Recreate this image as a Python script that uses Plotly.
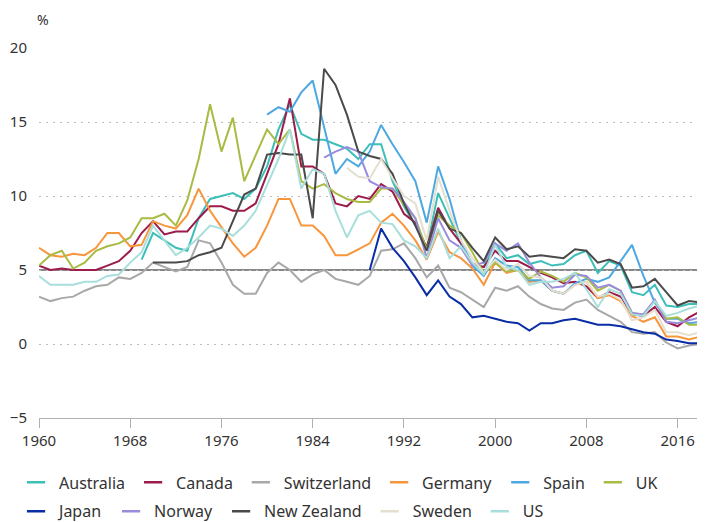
import plotly.graph_objects as go

# Long-term government bond yields, % (one point per year)
END = 2018.2  # last observation

countries_row1 = ["Australia", "Canada", "Switzerland", "Germany", "Spain", "UK"]
countries_row2 = ["Japan", "Norway", "New Zealand", "Sweden", "US"]

australia_start = 1969
australia = [5.7,
             7.5, 7.0, 6.5, 6.3, 8.5, 9.8, 10.0, 10.2, 9.8, 10.5,
             12.0, 14.5, 16.2, 14.2, 13.8, 13.8, 13.5, 13.2, 12.5, 13.5,
             13.5, 11.0, 9.3, 8.0, 6.5, 10.2, 8.5, 6.8, 5.3, 5.2,
             6.8, 5.8, 6.0, 5.4, 5.6, 5.3, 5.4, 6.0, 6.3, 4.8,
             5.6, 5.3, 3.5, 3.3, 4.0, 2.6, 2.5, 2.7, 2.7,
             1.8]

canada_start = 1960
canada = [5.3, 5.0, 5.1, 5.0, 5.0, 5.0, 5.3, 5.6, 6.3, 7.5,
          8.3, 7.4, 7.6, 7.6, 8.5, 9.3, 9.3, 9.0, 9.0, 9.5,
          11.5, 13.5, 16.6, 12.0, 12.0, 11.5, 9.5, 9.3, 10.0, 9.8,
          10.8, 10.3, 8.8, 8.2, 6.5, 9.2, 7.8, 6.8, 5.4, 5.2,
          6.3, 5.6, 5.6, 5.2, 4.8, 4.5, 4.1, 4.2, 3.9, 3.1,
          3.5, 3.2, 2.0, 1.9, 2.5, 1.5, 1.2, 1.8, 2.2,
          1.6]

switzerland_start = 1960
switzerland = [3.2, 2.9, 3.1, 3.2, 3.6, 3.9, 4.0, 4.5, 4.4, 4.8,
               5.5, 5.2, 4.9, 5.2, 7.0, 6.8, 5.5, 4.0, 3.4, 3.4,
               4.8, 5.5, 5.0, 4.2, 4.7, 5.0, 4.4, 4.2, 4.0, 4.6,
               6.3, 6.4, 6.8, 5.8, 4.5, 5.3, 3.8, 3.5, 3.0, 2.5,
               3.8, 3.6, 3.9, 3.2, 2.7, 2.4, 2.3, 2.8, 3.0, 2.3,
               1.9, 1.5, 0.8, 0.7, 0.8, 0.1, -0.3, -0.1, 0.0,
               -0.4]

germany_start = 1960
germany = [6.5, 6.0, 5.9, 6.1, 6.0, 6.5, 7.5, 7.5, 6.6, 6.7,
           8.3, 8.0, 7.8, 8.7, 10.5, 9.0, 7.9, 6.8, 5.9, 6.5,
           8.0, 9.8, 9.8, 8.0, 8.0, 7.3, 6.0, 6.0, 6.4, 6.8,
           8.2, 8.8, 8.0, 7.0, 5.7, 7.6, 6.2, 5.8, 5.1, 4.0,
           5.5, 4.8, 5.0, 4.2, 4.3, 3.6, 3.4, 4.0, 4.2, 3.1,
           3.3, 2.9, 1.9, 1.5, 1.8, 0.5, 0.5, 0.3, 0.5,
           -0.3]

spain_start = 1980
spain = [15.5, 16.0, 15.7, 17.0, 17.8, 14.6, 11.5, 12.5, 12.0, 13.0,
         14.8, 13.5, 12.3, 11.0, 8.2, 12.0, 9.8, 7.0, 5.3, 4.6,
         5.8, 5.3, 5.2, 4.3, 4.3, 3.6, 3.4, 4.1, 4.4, 4.2,
         4.5, 5.6, 6.7, 4.6, 2.8, 1.7, 1.7, 1.4, 1.5,
         0.6]

uk_start = 1960
uk = [5.3, 6.0, 6.3, 5.1, 5.5, 6.3, 6.6, 6.8, 7.2, 8.5,
      8.5, 8.8, 8.0, 9.7, 12.5, 16.2, 13.0, 15.3, 11.0, 12.8,
      14.5, 13.5, 14.5, 11.0, 10.5, 10.8, 10.2, 9.8, 9.6, 9.6,
      10.5, 10.5, 9.4, 8.5, 6.4, 8.7, 8.0, 7.5, 6.2, 4.8,
      5.5, 4.9, 5.0, 4.4, 4.9, 4.6, 4.2, 4.8, 4.5, 3.6,
      4.0, 3.6, 2.1, 2.0, 2.9, 1.7, 1.8, 1.3, 1.3,
      0.8]

japan_start = 1989
japan = [5.0, 7.8, 6.5, 5.6, 4.5, 3.3, 4.3, 3.2, 2.7, 1.8,
         1.9, 1.7, 1.5, 1.4, 0.9, 1.4, 1.4, 1.6, 1.7, 1.5,
         1.3, 1.3, 1.2, 1.0, 0.8, 0.7, 0.3, 0.2, 0.05, 0.05,
         -0.1]

norway_start = 1985
norway = [12.6, 13.0, 13.3, 13.0, 11.0, 10.6, 10.5, 9.6, 8.5, 5.8,
          8.5, 7.0, 6.5, 5.3, 5.5, 6.8, 6.3, 6.8, 5.5, 4.5,
          3.8, 3.9, 4.7, 4.6, 3.8, 4.0, 3.6, 2.1, 2.0, 3.0,
          1.5, 1.4, 1.6, 1.8,
          1.5]

new_zealand_start = 1970
new_zealand = [5.5, 5.5, 5.5, 5.6, 6.0, 6.2, 6.5, 8.3, 10.1, 10.5,
               12.8, 12.9, 12.8, 12.8, 8.5, 18.6, 17.5, 15.5, 13.0, 12.7,
               12.5, 11.5, 9.5, 8.0, 6.3, 9.0, 7.8, 7.5, 6.5, 5.6,
               7.2, 6.4, 6.6, 5.9, 6.0, 5.9, 5.8, 6.4, 6.3, 5.5,
               5.7, 5.4, 3.8, 3.9, 4.4, 3.5, 2.6, 2.9, 2.8,
               1.9]

sweden_start = 1987
sweden = [11.9, 11.3, 11.2, 12.5, 11.2, 10.0, 9.5, 7.0, 11.3, 9.0,
          7.0, 5.8, 4.8, 5.7, 5.0, 5.4, 4.6, 4.5, 3.6, 3.4,
          4.0, 4.2, 3.2, 3.4, 3.0, 1.6, 1.8, 2.3, 0.8, 0.8,
          0.6, 0.8,
          0.1]

us_start = 1960
us = [4.6, 4.0, 4.0, 4.0, 4.2, 4.2, 4.6, 4.7, 5.5, 6.2,
      8.0, 7.0, 6.0, 6.5, 7.2, 8.0, 7.8, 7.3, 8.0, 9.0,
      10.8, 12.5, 14.5, 10.5, 11.8, 11.5, 9.0, 7.2, 8.7, 9.0,
      8.2, 8.1, 7.0, 6.6, 5.8, 7.8, 5.8, 6.6, 5.5, 4.7,
      6.7, 5.2, 5.0, 4.0, 4.2, 4.2, 4.4, 4.8, 3.7, 2.5,
      3.7, 3.4, 2.0, 1.9, 2.9, 1.9, 2.1, 2.4, 2.6,
      2.9]

x_ticks = [1960, 1968, 1976, 1984, 1992, 2000, 2008, 2016]
y_ticks = [-5, 0, 5, 10, 15, 20]

series = {
    "Australia": (australia_start, australia, "#3dbfb8"),
    "Canada": (canada_start, canada, "#9c1b4b"),
    "Switzerland": (switzerland_start, switzerland, "#a8a8a8"),
    "Germany": (germany_start, germany, "#f7963c"),
    "Spain": (spain_start, spain, "#4da8e2"),
    "UK": (uk_start, uk, "#a9bb44"),
    "Japan": (japan_start, japan, "#0a2da6"),
    "Norway": (norway_start, norway, "#9a8cdc"),
    "New Zealand": (new_zealand_start, new_zealand, "#4a4a4a"),
    "Sweden": (sweden_start, sweden, "#e4dfcf"),
    "US": (us_start, us, "#a8dedb"),
}

fig = go.Figure()

for name, (start, values, color) in series.items():
    xs = list(range(start, 2019)) + [END]
    fig.add_trace(go.Scatter(
        x=xs, y=values, mode="lines", name=name, legendgroup=name,
        line=dict(color=color, width=2), showlegend=False,
        hovertemplate="%{x:.0f}: %{y:.1f}%<extra>" + name + "</extra>",
    ))

# short dash legend entries, two rows
for row, names in (("legend", countries_row1), ("legend2", countries_row2)):
    for name in names:
        color = series[name][2]
        fig.add_trace(go.Scatter(
            x=[None], y=[None], mode="markers", name=name, legendgroup=name,
            legend=row,
            marker=dict(symbol="line-ew", size=13, color=color,
                        line=dict(color=color, width=2.5)),
        ))

font = "Noto Sans, Open Sans, sans-serif"
legend_style = dict(orientation="h", x=-0.039, xanchor="left", yanchor="middle",
                    itemwidth=36, font=dict(size=16, color="#333333"))

fig.update_layout(
    width=705, height=522,
    margin=dict(l=31, r=8, t=40, b=112, autoexpand=False),
    paper_bgcolor="white", plot_bgcolor="white",
    font=dict(family=font, size=15, color="#333333"),
    legend=dict(legend_style, y=-0.174),
    legend2=dict(legend_style, y=-0.252),
    xaxis=dict(range=[1960, 2018.4], tickvals=x_ticks, showgrid=False,
               showline=True, linecolor="#b0b0b0", linewidth=1,
               ticks="outside", ticklen=9, tickcolor="#b0b0b0",
               tickfont=dict(size=15, color="#333333"), zeroline=False),
    yaxis=dict(range=[-5, 20], tickvals=y_ticks, showgrid=True,
               gridcolor="#bdbdbd", gridwidth=1, griddash="2px,5px",
               zeroline=False, ticks="", ticklabelstandoff=11,
               tickfont=dict(size=15, color="#333333")),
    shapes=[dict(type="line", xref="paper", x0=0, x1=1, yref="y", y0=5, y1=5,
                 line=dict(color="#111111", width=1), layer="between")],
    annotations=[dict(text="%", xref="paper", yref="paper", x=-0.006, y=1.076,
                      xanchor="left", yanchor="middle", showarrow=False,
                      font=dict(size=14, color="#333333"))],
)

fig.write_html("out.html")
